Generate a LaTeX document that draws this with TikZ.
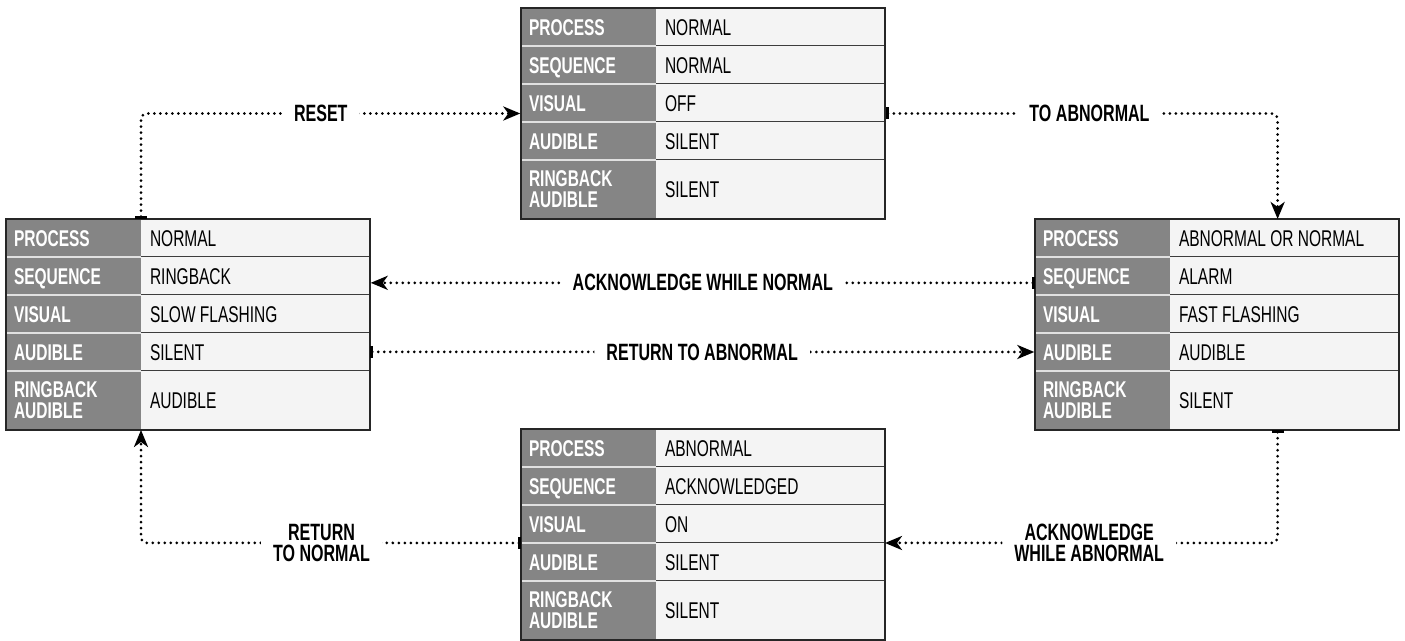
\documentclass[tikz,border=0pt]{standalone}
\usepackage{fontspec}
\setmainfont{Liberation Sans}[FakeStretch=0.68]
\usepackage{tikz}
\usetikzlibrary{arrows.meta,positioning,calc,fit}
\definecolor{labgray}{RGB}{133,133,133}
\definecolor{valfill}{RGB}{244,244,244}
\definecolor{labline}{RGB}{225,225,225}
\definecolor{valline}{RGB}{60,60,60}

% one state table: name, north west corner, five values
\newcommand{\statetable}[7]{%
  \node[lab, anchor=north west] (#1-1) at (#2) {PROCESS};
  \node[lab, below=0pt of #1-1] (#1-2) {SEQUENCE};
  \node[lab, below=0pt of #1-2] (#1-3) {VISUAL};
  \node[lab, below=0pt of #1-3] (#1-4) {AUDIBLE};
  \node[lab, tallrow, below=0pt of #1-4] (#1-5) {RINGBACK\\AUDIBLE};
  \node[val, right=0pt of #1-1] (#1-v1) {#3};
  \node[val, right=0pt of #1-2] (#1-v2) {#4};
  \node[val, right=0pt of #1-3] (#1-v3) {#5};
  \node[val, right=0pt of #1-4] (#1-v4) {#6};
  \node[val, tallrow, right=0pt of #1-5] (#1-v5) {#7};
  \foreach \r in {1,...,4} {
    \draw[labsep] (#1-\r.south west) -- (#1-\r.south east);
    \draw[valsep] (#1-v\r.south west) -- (#1-v\r.south east);
  }
  \node[outline, fit=(#1-1)(#1-v5)] (#1) {};
}

\begin{document}
\begin{tikzpicture}[
  x=0.5pt, y=-0.5pt,
  lab/.style={fill=labgray, text=white, font=\fontsize{11.4}{10.5}\selectfont\bfseries,
    text width=59.5pt, inner xsep=4pt, inner ysep=0pt, minimum height=19pt, outer sep=0pt,
    text height=9pt, text depth=0pt, align=flush left},
  val/.style={fill=valfill, text=black, font=\fontsize{11.4}{10.5}\selectfont,
    text width=105.5pt, inner xsep=4.5pt, inner ysep=0pt, minimum height=19pt, outer sep=0pt,
    text height=9pt, text depth=0pt, align=flush left},
  tallrow/.style={minimum height=29.5pt, text height=, text depth=},
  labsep/.style={draw=labline, line width=0.8pt},
  valsep/.style={draw=valline, line width=0.5pt},
  outline/.style={draw=black!85, line width=0.7pt, inner sep=0pt},
  flow/.style={line width=1.5pt, dash pattern=on 0pt off 3pt, line cap=round, rounded corners=3pt,
    arrows={{Bar[width=6pt,line width=1.5pt]}-{Stealth[length=8.5pt,width=7pt,inset=2.5pt]}}},
  tag/.style={fill=white, font=\fontsize{11.8}{10.5}\selectfont\bfseries, inner xsep=6pt, inner ysep=1pt, align=flush center},
]
  \useasboundingbox (0,0) rectangle (1405,641);

  \statetable{T}{521,8}{NORMAL}{NORMAL}{OFF}{SILENT}{SILENT}
  \statetable{L}{6,219}{NORMAL}{RINGBACK}{SLOW FLASHING}{SILENT}{AUDIBLE}
  \statetable{R}{1035,219}{ABNORMAL OR NORMAL}{ALARM}{FAST FLASHING}{AUDIBLE}{SILENT}
  \statetable{B}{521,429}{ABNORMAL}{ACKNOWLEDGED}{ON}{SILENT}{SILENT}

  \coordinate (R-in) at ($(R-v1.north west)!0.47!(R-v1.north east)$);
  \coordinate (R-out) at ($(R-v5.south west)!0.47!(R-v5.south east)$);
  \coordinate (ackn) at ($(R-2.north west)!0.68!(R-2.south west)$);

  \draw[flow] (L-v1.north west) |- node[tag, pos=0.737] (reset) {RESET} (T.west);
  \draw[flow] (T.east) -| node[tag, pos=0.26] (toabn) {TO ABNORMAL} (R-in);
  \draw[flow] (ackn) -- node[tag] (acknorm) {ACKNOWLEDGE WHILE NORMAL} (ackn -| L.east);
  \draw[flow] (L-v4.east) -- node[tag] (retabn) {RETURN TO ABNORMAL} (L-v4.east -| R.west);
  \draw[flow] (R-out) |- node[tag, pos=0.74] (ackabn) {ACKNOWLEDGE\\WHILE ABNORMAL} (B-v3.south east);
  \draw[flow] (B-3.south west) -| node[tag, pos=0.2625] (retnorm) {RETURN\\TO NORMAL} (L-v5.south west);
\end{tikzpicture}
\end{document}
